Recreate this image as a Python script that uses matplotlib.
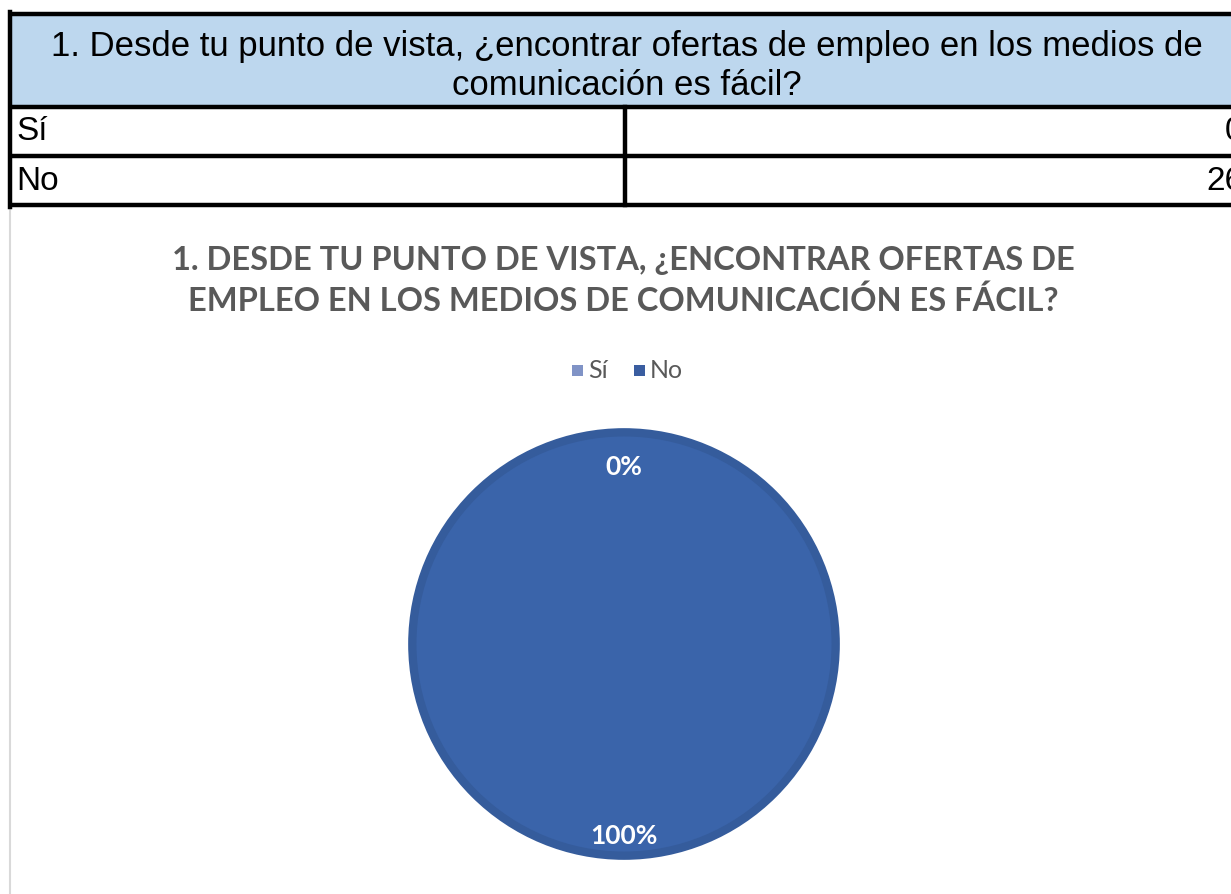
#!/usr/bin/env python3
"""
Pregunta 1: tabla de respuestas y gráfico circular (Sí / No).
"""

import matplotlib
matplotlib.use('Agg')
import matplotlib.pyplot as plt
from matplotlib.patches import Rectangle, Circle

# Data
question = '1. Desde tu punto de vista, ¿encontrar ofertas de empleo en los medios de\ncomunicación es fácil?'
chart_title = '1. DESDE TU PUNTO DE VISTA, ¿ENCONTRAR OFERTAS DE\nEMPLEO EN LOS MEDIOS DE COMUNICACIÓN ES FÁCIL?'
categories = ['Sí', 'No']
counts = [0, 26]
slice_colors = ['#8093C6', '#3A64AA']
legend_colors = ['#8093C6', '#3A5DA0']

W, H = 1231, 894
fig = plt.figure(figsize=(W / 100, H / 100), dpi=100)
fig.patch.set_facecolor('white')

# overlay axes in pixel coordinates (y down)
bg = fig.add_axes([0, 0, 1, 1])
bg.set_xlim(0, W)
bg.set_ylim(H, 0)
bg.axis('off')

# chart area border
bg.add_patch(Rectangle((10, 205), 1260, 720, facecolor='white',
                       edgecolor='#D9D9D9', linewidth=1.5))

# --- table ---
tbl_font = 'Liberation Sans'
bg.add_patch(Rectangle((10, 14), 1260, 94, facecolor='#BDD7EE',
                       edgecolor='none'))
bg.text(627, 66, question, fontsize=25, family=tbl_font, ha='center',
        va='center', linespacing=1.26, color='black')

row_top = [108, 157]
for i, (cat, val) in enumerate(zip(categories, counts)):
    y0 = row_top[i]
    bg.text(16, y0 + 24, cat, fontsize=24, family=tbl_font, ha='left',
            va='center', color='black')
    bg.text(1243, y0 + 24, str(val), fontsize=24, family=tbl_font,
            ha='right', va='center', color='black')

lw = 3.2
for y in [14, 107, 156, 205]:
    bg.plot([8, W + 5], [y, y], color='black', linewidth=lw,
            solid_capstyle='butt')
bg.plot([10, 10], [12, 207], color='black', linewidth=lw)
bg.plot([625, 625], [107, 205], color='black', linewidth=lw)

# --- chart title ---
bg.text(623, 281, chart_title, fontsize=23.5, family='Lato', weight='bold',
        color='#595959', ha='center', va='center', linespacing=1.45)

# --- legend ---
leg_x = [572, 634]
for x, cat, c in zip(leg_x, categories, legend_colors):
    bg.add_patch(Rectangle((x, 365), 11, 11, facecolor=c, edgecolor='none'))
    bg.text(x + 16, 370, cat, fontsize=18, family='Lato', color='#595959',
            ha='left', va='center')

# --- pie ---
cx, cy, r = 624, 644, 216
ax = fig.add_axes([(cx - r) / W, (H - cy - r) / H, 2 * r / W, 2 * r / H])
wedges, _, autotexts = ax.pie(
    counts, colors=slice_colors, startangle=90, counterclock=False,
    radius=0.98, autopct=lambda p: f'{p:.0f}%', pctdistance=0.86,
    wedgeprops=dict(linewidth=0),
    textprops=dict(color='white', fontsize=19, family='Lato',
                   weight='bold'))
ax.add_patch(Circle((0, 0), 0.98, fill=False, edgecolor='#355C9C',
                    linewidth=6, clip_on=False))
for w in wedges:
    w.set_clip_on(False)
# data labels sit a bit inside the rim, as in the original
autotexts[0].set_position((0, 0.82))
autotexts[1].set_position((0, -0.89))
ax.set_xlim(-1, 1)
ax.set_ylim(-1, 1)
ax.set_aspect('auto')
ax.axis('off')

plt.savefig('out.png', dpi=100)
plt.close()
print("Created out.png")
